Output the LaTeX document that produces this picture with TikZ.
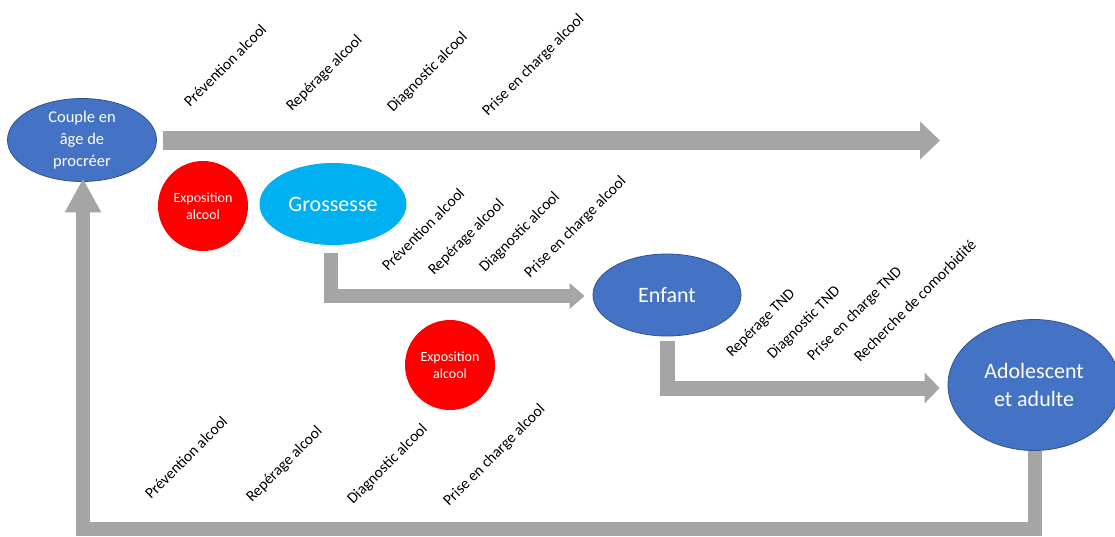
\documentclass[tikz,border=0pt]{standalone}
\usepackage{fontspec}
\setmainfont{Carlito}
\usetikzlibrary{shapes.geometric,arrows.meta,calc}
\definecolor{pblue}{HTML}{4472C4}
\definecolor{pbord}{HTML}{2F528F}
\definecolor{pcyan}{HTML}{00B0F0}
\definecolor{pred}{HTML}{FF0000}
\definecolor{pgrey}{HTML}{A5A5A5}
\begin{document}
\begin{tikzpicture}[x=1pt,y=-1pt,
 blueell/.style={ellipse, fill=pblue, draw=pbord, line width=0.8pt, text=white, inner sep=0pt, align=center},
 cyanell/.style={ellipse, fill=pcyan, text=white, inner sep=0pt, align=center},
 expo/.style={circle, fill=pred, text=white, minimum size=90pt, inner sep=0pt, align=center, font=\fontsize{14}{17}\selectfont},
 lab/.style={rotate=45, anchor=base west, inner sep=0pt, font=\fontsize{15.5}{17}\selectfont},
 flow/.style={draw=pgrey, line cap=butt, line join=miter}
]
\useasboundingbox (0,0) rectangle (1115,536);

% main nodes
\node[blueell, minimum width=149pt, minimum height=83pt, font=\fontsize{16.5}{22}\selectfont] (cou) at (82,140) {Couple en\\âge de\\procréer};
\node[expo] (ex1) at (203,206) {Exposition\\alcool};
\node[cyanell, minimum width=147pt, minimum height=82pt, font=\fontsize{22}{26}\selectfont] (gro) at (333,204) {Grossesse};
\node[blueell, minimum width=148pt, minimum height=82pt, font=\fontsize{22}{26}\selectfont] (enf) at (667,295) {Enfant};
\node[expo] (ex2) at (450,365) {Exposition\\alcool};
\node[blueell, minimum width=172pt, minimum height=131pt, font=\fontsize{22}{28}\selectfont] (ado) at (1034,385) {Adolescent\\et adulte};

% connector coordinates
\coordinate (topend) at (940,140.5);
\coordinate (rc1) at (1035,529);

% arrows
\draw[flow, line width=19pt, -{Triangle[length=20pt,width=37pt]}] ($(cou.east)+(6,0.5)$) -- (topend);
\draw[flow, line width=14pt, -{Triangle[length=15pt,width=25pt]}] ($(gro.south)+(-2,8)$) |- ($(enf.west)+(-8,1)$);
\draw[flow, line width=15pt, -{Triangle[length=15pt,width=30pt]}] ($(enf.south)+(0.5,5)$) |- ($(ado.west)+(-8,3)$);
\draw[flow, line width=14pt, -{Triangle[length=34pt,width=34pt]}] ($(ado.south)+(1,0)$) -- (rc1) -| ($(cou.south)+(1,-3.5)$);

% top labels
\node[lab] (t1) at (190,108) {Prévention alcool};
\node[lab] (t2) at (292,112) {Repérage alcool};
\node[lab] (t3) at (393,113) {Diagnostic alcool};
\node[lab] (t4) at (488,117) {Prise en charge alcool};

% middle labels
\node[lab] (m1) at (388,272) {Prévention alcool};
\node[lab] (m2) at (434,276) {Repérage alcool};
\node[lab] (m3) at (485,273) {Diagnostic alcool};
\node[lab] (m4) at (530,279) {Prise en charge alcool};

% right labels
\node[lab] (r1) at (732,358) {Repérage TND};
\node[lab] (r2) at (773,360) {Diagnostic TND};
\node[lab] (r3) at (813,362) {Prise en charge TND};
\node[lab] (r4) at (860,363) {Recherche de comorbidité};

% bottom labels
\node[lab] (b1) at (151,500) {Prévention alcool};
\node[lab] (b2) at (252,503) {Repérage alcool};
\node[lab] (b3) at (353,505) {Diagnostic alcool};
\node[lab] (b4) at (449,507) {Prise en charge alcool};
\end{tikzpicture}
\end{document}
